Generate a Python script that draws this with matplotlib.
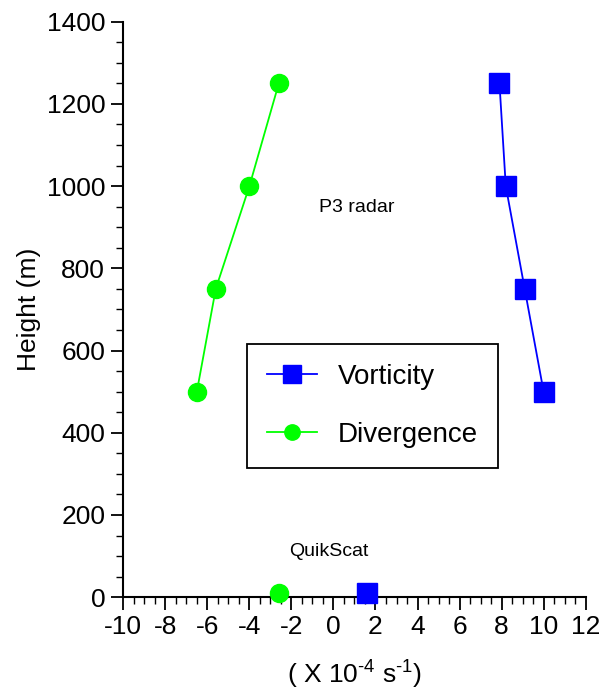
import matplotlib
matplotlib.use("Agg")
import matplotlib.pyplot as plt
from matplotlib.ticker import MultipleLocator

plt.rcParams['font.family'] = ['Liberation Sans', 'DejaVu Sans']
plt.rcParams['axes.unicode_minus'] = False

# P3 radar profiles (x 10^-4 s^-1) at each height level (m)
heights = [500, 750, 1000, 1250]
vorticity = [10.0, 9.1, 8.2, 7.9]
divergence = [-6.5, -5.6, -4.0, -2.6]

# QuikScat surface estimates (10 m)
qs_height = [10]
qs_vorticity = [1.6]
qs_divergence = [-2.6]

fig = plt.figure(figsize=(6.05, 6.96), dpi=100)
ax = fig.add_axes([0.2038, 0.142, 0.9680 - 0.2038, 0.9688 - 0.142])

blue = '#0000ff'
green = '#00ff00'

ax.plot(vorticity, heights, color=blue, lw=1.3, marker='s', ms=15,
        mec=blue, mfc=blue, label='Vorticity', clip_on=False)
ax.plot(divergence, heights, color=green, lw=1.3, marker='o', ms=13,
        mec=green, mfc=green, label='Divergence', clip_on=False)
ax.plot(qs_vorticity, qs_height, ls='none', marker='s', ms=15,
        mec=blue, mfc=blue, clip_on=False, zorder=3)
ax.plot(qs_divergence, qs_height, ls='none', marker='o', ms=13,
        mec=green, mfc=green, clip_on=False, zorder=3)

ax.set_xlim(-10, 12)
ax.set_ylim(0, 1400)
ax.xaxis.set_major_locator(MultipleLocator(2))
ax.xaxis.set_minor_locator(MultipleLocator(0.5))
ax.yaxis.set_major_locator(MultipleLocator(200))
ax.yaxis.set_minor_locator(MultipleLocator(50))

for s in ('top', 'right'):
    ax.spines[s].set_visible(False)
for s in ('left', 'bottom'):
    ax.spines[s].set_linewidth(1.5)

ax.tick_params(axis='both', which='major', direction='out', length=9,
               width=1.3, labelsize=19, pad=4)
ax.tick_params(axis='both', which='minor', direction='out', length=5,
               width=1.0)

ax.set_ylabel('Height (m)', fontsize=19, labelpad=4)
ax.set_xlabel('( X 10$^{\\mathregular{\u20104}}$ s$^{\\mathregular{\u20101}}$)',
              fontsize=19, labelpad=13)

ax.text(1.1, 947, 'P3 radar', fontsize=14, ha='center', va='center')
ax.text(-0.2, 112, 'QuikScat', fontsize=14, ha='center', va='center')

leg = ax.legend(loc='upper left', bbox_to_anchor=(0.2675, 0.44),
                fontsize=20, frameon=True, fancybox=False, framealpha=1,
                edgecolor='black', markerscale=0.85, handlelength=1.8,
                labelspacing=1.15, borderpad=0.72, handletextpad=0.75,
                borderaxespad=0)
leg.get_frame().set_linewidth(1.3)

fig.savefig('out.png', dpi=100)
